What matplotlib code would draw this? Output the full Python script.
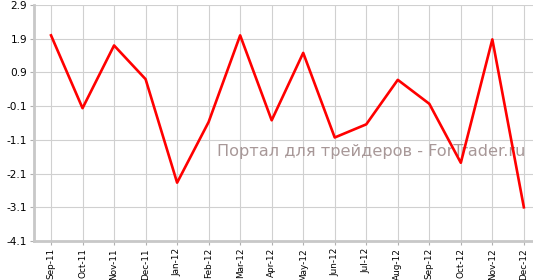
import matplotlib
matplotlib.use("Agg")
import matplotlib.pyplot as plt

# monthly values
months = ["Sep-11", "Oct-11", "Nov-11", "Dec-11", "Jan-12", "Feb-12", "Mar-12", "Apr-12",
          "May-12", "Jun-12", "Jul-12", "Aug-12", "Sep-12", "Oct-12", "Nov-12", "Dec-12"]
values = [2.0, -0.16, 1.7, 0.7, -2.37, -0.57, 2.0, -0.52,
          1.48, -1.03, -0.64, 0.68, -0.03, -1.78, 1.88, -3.1]
y_ticks = [-4.1, -3.1, -2.1, -1.1, -0.1, 0.9, 1.9, 2.9]

watermark = "Портал для трейдеров - ForTrader.ru"

fig = plt.figure(figsize=(5.33, 2.8), dpi=100)
ax = fig.add_axes([34 / 533, 39 / 280, 499 / 533, 236 / 280])

x = list(range(len(months)))
ax.plot(x, values, color="#ff0000", linewidth=1.9, zorder=3)

ax.set_xlim(-0.54, len(months) - 1 + 0.29)
ax.set_ylim(-4.1, 2.9)
ax.set_xticks(x)
ax.set_xticklabels(months, rotation=90, fontsize=6.4)
ax.set_yticks(y_ticks)
ax.set_yticklabels([f"{v:.1f}" for v in y_ticks], fontsize=7.6)

ax.grid(True, color="#d0d0d0", linewidth=0.8, zorder=0)
ax.set_axisbelow(True)

for side in ["top", "right"]:
    ax.spines[side].set_visible(False)
for side in ["left", "bottom"]:
    ax.spines[side].set_color("#c8c8c8")
    ax.spines[side].set_linewidth(2.0)
ax.tick_params(axis="both", color="#b0b0b0", length=3, width=0.8, pad=2)

# site watermark
ax.text(0.367, 0.38, watermark, transform=ax.transAxes, fontsize=11.6,
        color="#a89898", ha="left", va="center", zorder=2)

fig.savefig("out.png", dpi=100)
